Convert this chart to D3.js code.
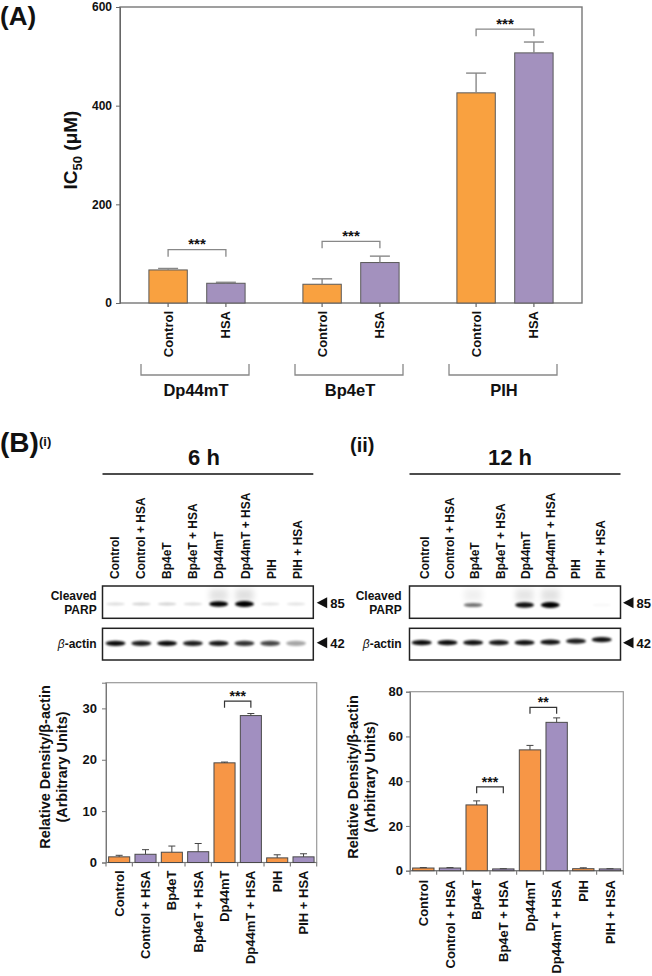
<!DOCTYPE html>
<html><head><meta charset="utf-8">
<script src="https://cdnjs.cloudflare.com/ajax/libs/d3/7.8.5/d3.min.js"></script>
<style>
body{margin:0;background:#fff}
text{font-family:"Liberation Sans",Arial,Helvetica,sans-serif;font-weight:bold;fill:#111}
</style>
</head><body><script>
// ---------------- DATA ----------------
const groupsA = ["Dp44mT", "Bp4eT", "PIH"];
const treatA = ["Control", "HSA"];
const ic50Control = [67, 38, 426];
const ic50ControlErr = [3, 11, 40];
const ic50HSA = [40, 82, 507];
const ic50HSAErr = [2, 13, 22];
const sigLevelA = [108, 125, 555];
const sigLabelA = ["***", "***", "***"];
const ticksA = [0, 200, 400, 600];

const lanes = ["Control", "Control + HSA", "Bp4eT", "Bp4eT + HSA", "Dp44mT", "Dp44mT + HSA", "PIH", "PIH + HSA"];
const parp6h = [0.12, 0.16, 0.16, 0.12, 0.9, 1.0, 0.1, 0.1];
const actin6h = [0.95, 0.88, 0.95, 0.88, 0.9, 0.8, 0.72, 0.35];
const parp12h = [0, 0, 0.5, 0, 0.85, 0.95, 0, 0.03];
const actin12h = [0.95, 0.95, 0.92, 0.9, 0.92, 0.92, 0.88, 0.92];

const density6h = [1.1, 1.6, 2.0, 2.1, 19.4, 28.6, 0.9, 1.1];
const density6hErr = [0.3, 0.9, 1.2, 1.6, 0.15, 0.4, 0.6, 0.6];
const density12h = [1.2, 1.2, 29.4, 0.8, 54, 66.3, 0.9, 0.8];
const density12hErr = [0.2, 0.2, 1.8, 0.1, 2.0, 2.0, 0.4, 0.1];
const ticks6h = [0, 10, 20, 30];
const ticks12h = [0, 20, 40, 60, 80];
const sig6h = [{a: "Dp44mT", b: "Dp44mT + HSA", level: 31.4, label: "***"}];
const sig12h = [{a: "Bp4eT", b: "Bp4eT + HSA", level: 37.5, label: "***"},
                {a: "Dp44mT", b: "Dp44mT + HSA", level: 73, label: "**"}];

// ---------------- STYLE ----------------
const ORANGE_A = "#F9A140", PURPLE_A = "#A391BE";
const ORANGE_B = "#F79646", PURPLE_B = "#A18FC0";
const W = 652, H = 976;

const svg = d3.select("body").append("svg").attr("width", W).attr("height", H);
const defs = svg.append("defs");
defs.append("filter").attr("id", "blurS").attr("x", "-50%").attr("y", "-100%").attr("width", "200%").attr("height", "300%")
  .append("feGaussianBlur").attr("stdDeviation", 1.1);
defs.append("filter").attr("id", "blurL").attr("x", "-50%").attr("y", "-100%").attr("width", "200%").attr("height", "300%")
  .append("feGaussianBlur").attr("stdDeviation", 3);

function label(g, x, y, txt, size, anchor = "start") {
  return g.append("text").attr("x", x).attr("y", y).attr("text-anchor", anchor).style("font-size", size + "px").text(txt);
}
function vtext(g, x, y, txt, size, anchor) {
  return g.append("text").attr("transform", `translate(${x},${y}) rotate(-90)`)
    .attr("text-anchor", anchor).attr("dy", "0.35em").style("font-size", size + "px").text(txt);
}

// ================= PANEL A =================
const gA = svg.append("g");
label(gA, 0, 25, "(A)", 26);
const yA = d3.scaleLinear().domain([0, 600]).range([303, 7]);
const xG = d3.scaleBand().domain(groupsA).range([120, 582]).padding(0);
const xT = d3.scaleBand().domain(treatA).range([0, xG.bandwidth()]).paddingInner(0.336).paddingOuter(0.5);

const dataA = groupsA.flatMap((g, i) => [
  {g, t: "Control", v: ic50Control[i], e: ic50ControlErr[i]},
  {g, t: "HSA", v: ic50HSA[i], e: ic50HSAErr[i]}
]);
const cx = d => xG(d.g) + xT(d.t) + xT.bandwidth() / 2;

// frame
gA.append("rect").attr("x", 120).attr("y", yA(600)).attr("width", 582 - 120).attr("height", yA(0) - yA(600))
  .attr("fill", "none").attr("stroke", "#777").attr("stroke-width", 1.4);

// y axis
const axA = gA.append("g").attr("transform", "translate(120,0)")
  .call(d3.axisLeft(yA).tickValues(ticksA).tickSize(4).tickPadding(4));
axA.select(".domain").attr("stroke", "#666");
axA.selectAll(".tick line").attr("stroke", "#666");
axA.selectAll(".tick text").style("font-size", "12px").style("font-family", null).attr("fill", "#111");

// bars
gA.selectAll("rect.bar").data(dataA).join("rect").attr("class", "bar")
  .attr("x", d => xG(d.g) + xT(d.t)).attr("width", xT.bandwidth())
  .attr("y", d => yA(d.v)).attr("height", d => yA(0) - yA(d.v))
  .attr("fill", d => d.t === "Control" ? ORANGE_A : PURPLE_A)
  .attr("stroke", "#5a5a5a").attr("stroke-width", 1);
// error bars
gA.selectAll("line.err").data(dataA).join("line").attr("class", "err")
  .attr("x1", cx).attr("x2", cx).attr("y1", d => yA(d.v)).attr("y2", d => yA(d.v + d.e))
  .attr("stroke", "#888").attr("stroke-width", 1.4);
gA.selectAll("line.cap").data(dataA).join("line").attr("class", "cap")
  .attr("x1", d => cx(d) - 10).attr("x2", d => cx(d) + 10).attr("y1", d => yA(d.v + d.e)).attr("y2", d => yA(d.v + d.e))
  .attr("stroke", "#888").attr("stroke-width", 1.4);
// x ticks
gA.selectAll("line.xt").data(dataA).join("line").attr("class", "xt")
  .attr("x1", cx).attr("x2", cx).attr("y1", yA(0)).attr("y2", yA(0) + 4).attr("stroke", "#666").attr("stroke-width", 1.2);
// x labels
dataA.forEach(d => vtext(gA, cx(d), yA(0) + 8, d.t, 13, "end"));

// significance brackets
groupsA.forEach((g, i) => {
  const x1 = xG(g) + xT("Control") + xT.bandwidth() / 2, x2 = xG(g) + xT("HSA") + xT.bandwidth() / 2;
  const y = yA(sigLevelA[i]);
  gA.append("path").attr("d", `M${x1},${y + 7}V${y}H${x2}V${y + 7}`).attr("fill", "none").attr("stroke", "#888").attr("stroke-width", 1.3);
  label(gA, (x1 + x2) / 2, y - 0.5, sigLabelA[i], 15, "middle");
});

// group brackets
groupsA.forEach(g => {
  const c = xG(g) + xG.bandwidth() / 2 - 2;
  gA.append("path").attr("d", `M${c - 54},364V375H${c + 54}V364`).attr("fill", "none").attr("stroke", "#888").attr("stroke-width", 1.3);
  label(gA, c + 1, 396, g, 16.5, "middle");
});

// y title
const tA = gA.append("text").attr("transform", "translate(70,150) rotate(-90)").attr("text-anchor", "middle")
  .attr("dy", "0.35em").style("font-size", "19px");
tA.append("tspan").text("IC");
tA.append("tspan").attr("dy", 5).style("font-size", "13px").text("50");
tA.append("tspan").attr("dy", -5).text(" (\u03BCM)");

// ================= PANEL B =================
const gB = svg.append("g");
label(gB, 0, 452, "(B)", 28);
label(gB, 39, 446, "(i)", 13);
label(gB, 350, 452, "(ii)", 20);

function drawBlot(cfg) {
  const g = gB.append("g");
  const lx = d3.scalePoint().domain(lanes).range(cfg.laneRange);
  // header
  label(g, cfg.headX, 465, cfg.head, 22, "middle");
  g.append("line").attr("x1", cfg.x0).attr("x2", cfg.x1).attr("y1", 474).attr("y2", 474).attr("stroke", "#111").attr("stroke-width", 1.6);
  // lane labels
  const ll = d3.scalePoint().domain(lanes).range(cfg.labelRange);
  lanes.forEach(l => vtext(g, ll(l), 579, l, 12, "start"));
  // boxes
  const boxes = [{y0: 586, y1: 618.3}, {y0: 628.3, y1: 660}];
  boxes.forEach(b => g.append("rect").attr("x", cfg.x0).attr("y", b.y0).attr("width", cfg.x1 - cfg.x0).attr("height", b.y1 - b.y0)
    .attr("fill", "#fff").attr("stroke", "#222").attr("stroke-width", 1.5));
  // PARP smear
  g.selectAll(null).data(lanes.map((l, i) => ({l, v: cfg.parp[i]})).filter(d => d.v > 0.3)).join("rect")
    .attr("x", d => lx(d.l) - 9).attr("y", 589).attr("width", 18).attr("height", 12)
    .attr("fill", "#000").attr("opacity", d => d.v * 0.12).attr("filter", "url(#blurL)");
  // PARP bands
  g.selectAll(null).data(lanes.map((l, i) => ({l, v: cfg.parp[i]})).filter(d => d.v > 0)).join("ellipse")
    .attr("cx", d => lx(d.l)).attr("cy", cfg.parpY).attr("rx", 9.5).attr("ry", d => 1.2 + 1.8 * d.v)
    .attr("fill", "#000").attr("opacity", d => Math.min(1, d.v * 1.1)).attr("filter", "url(#blurS)");
  // actin bands
  g.selectAll(null).data(lanes.map((l, i) => ({l, v: cfg.actin[i]}))).join("ellipse")
    .attr("cx", d => lx(d.l)).attr("cy", (d, i) => cfg.actinY - (cfg.actinTilt ? cfg.actinTilt[i] : 0)).attr("rx", 10).attr("ry", 2.6)
    .attr("fill", "#000").attr("opacity", d => d.v).attr("filter", "url(#blurS)");
  // side labels
  label(g, cfg.nameX, 600, "Cleaved", 12, "end");
  label(g, cfg.nameX, 614, "PARP", 12, "end");
  const act = g.append("text").attr("x", cfg.nameX).attr("y", 648).attr("text-anchor", "end").style("font-size", "12px");
  act.append("tspan").style("font-style", "italic").style("font-weight", "normal").text("\u03B2");
  act.append("tspan").text("-actin");
  // markers
  [[602.7, "85"], [642.7, "42"]].forEach(([y, t]) => {
    const m = cfg.x1 + cfg.markGap;
    g.append("path").attr("d", `M${m},${y}L${m + 10.5},${y - 5.5}L${m + 10.5},${y + 5.5}Z`).attr("fill", "#111");
    label(g, m + 13.5, y + 5, t, 13, "start");
  });
}

drawBlot({x0: 102.5, x1: 313.3, laneRange: [115.5, 296], labelRange: [115, 297.5], head: "6 h", headX: 204, markGap: 3.4,
  parp: parp6h, actin: actin6h, parpY: 604, actinY: 643.3, nameX: 96.7});
drawBlot({x0: 409.5, x1: 620.5, laneRange: [421.7, 601.7], labelRange: [425, 601], head: "12 h", headX: 510, markGap: 2.5,
  parp: parp12h, actin: actin12h, parpY: 605, actinY: 642.7, nameX: 401.7, actinTilt: [0, 0, 0, 0, 0, 0.5, 1.5, 3]});

function drawBars(cfg) {
  const g = gB.append("g");
  const x = d3.scaleBand().domain(lanes).range([cfg.x0, cfg.x1]).paddingInner(0.2).paddingOuter(0.1);
  const y = d3.scaleLinear().domain(cfg.domain).range([cfg.y0, cfg.yTop]);
  const data = lanes.map((l, i) => ({l, v: cfg.values[i], e: cfg.errs[i]}));
  g.append("rect").attr("x", cfg.x0).attr("y", cfg.yTop).attr("width", cfg.x1 - cfg.x0).attr("height", cfg.y0 - cfg.yTop)
    .attr("fill", "none").attr("stroke", "#999").attr("stroke-width", 1.2);
  const ax = g.append("g").attr("transform", `translate(${cfg.x0},0)`)
    .call(d3.axisLeft(y).tickValues(cfg.ticks).tickSize(4).tickPadding(cfg.tickPad));
  ax.select(".domain").attr("stroke", "#777");
  ax.selectAll(".tick line").attr("stroke", "#777");
  ax.selectAll(".tick text").style("font-size", "13px").style("font-family", null).attr("fill", "#111");
  // x ticks at boundaries
  const step = x.step();
  const bounds = lanes.map(l => x(l) - x.paddingInner() * step / 2).concat([cfg.x1]);
  g.selectAll(null).data(bounds).join("line").attr("x1", d => d).attr("x2", d => d)
    .attr("y1", cfg.y0).attr("y2", cfg.y0 + 4).attr("stroke", "#777").attr("stroke-width", 1.1);
  g.append("line").attr("x1", cfg.x0).attr("x2", cfg.x1).attr("y1", cfg.y0).attr("y2", cfg.y0).attr("stroke", "#777").attr("stroke-width", 1.2);
  g.selectAll("rect.bar").data(data).join("rect").attr("class", "bar")
    .attr("x", d => x(d.l)).attr("width", x.bandwidth()).attr("y", d => y(d.v)).attr("height", d => y(0) - y(d.v))
    .attr("fill", d => d.l.includes("HSA") ? PURPLE_B : ORANGE_B).attr("stroke", "#4a4a4a").attr("stroke-width", 1);
  const c = d => x(d.l) + x.bandwidth() / 2;
  g.selectAll("line.err").data(data).join("line").attr("class", "err")
    .attr("x1", c).attr("x2", c).attr("y1", d => y(d.v)).attr("y2", d => y(d.v + d.e)).attr("stroke", "#444").attr("stroke-width", 1);
  g.selectAll("line.cap").data(data).join("line").attr("class", "cap")
    .attr("x1", d => c(d) - 3.5).attr("x2", d => c(d) + 3.5).attr("y1", d => y(d.v + d.e)).attr("y2", d => y(d.v + d.e))
    .attr("stroke", "#444").attr("stroke-width", 1);
  data.forEach(d => vtext(g, c(d), cfg.labelTop, d.l, 13, "end"));
  cfg.sig.forEach(s => {
    const x1 = x(s.a) + x.bandwidth() / 2, x2 = x(s.b) + x.bandwidth() / 2, yy = y(s.level);
    g.append("path").attr("d", `M${x1},${yy + 6.5}V${yy}H${x2}V${yy + 6.5}`).attr("fill", "none").attr("stroke", "#333").attr("stroke-width", 1.2);
    label(g, (x1 + x2) / 2, yy, s.label, 14, "middle");
  });
  vtext(g, cfg.titleX, cfg.titleY, "Relative Density/\u03B2-actin", 14.5, "middle");
  vtext(g, cfg.titleX + 16.5, cfg.titleY, "(Arbitrary Units)", 14.5, "middle");
}

drawBars({x0: 106, x1: 316.7, y0: 862.5, yTop: 682.7, domain: [0, 35], ticks: ticks6h, tickPad: 5,
  values: density6h, errs: density6hErr, labelTop: 870.5, sig: sig6h, titleX: 45, titleY: 767});
drawBars({x0: 410, x1: 623.3, y0: 870.7, yTop: 691.7, domain: [0, 80], ticks: ticks12h, tickPad: 3,
  values: density12h, errs: density12hErr, labelTop: 880, sig: sig12h, titleX: 353.3, titleY: 777});
</script></body></html>
